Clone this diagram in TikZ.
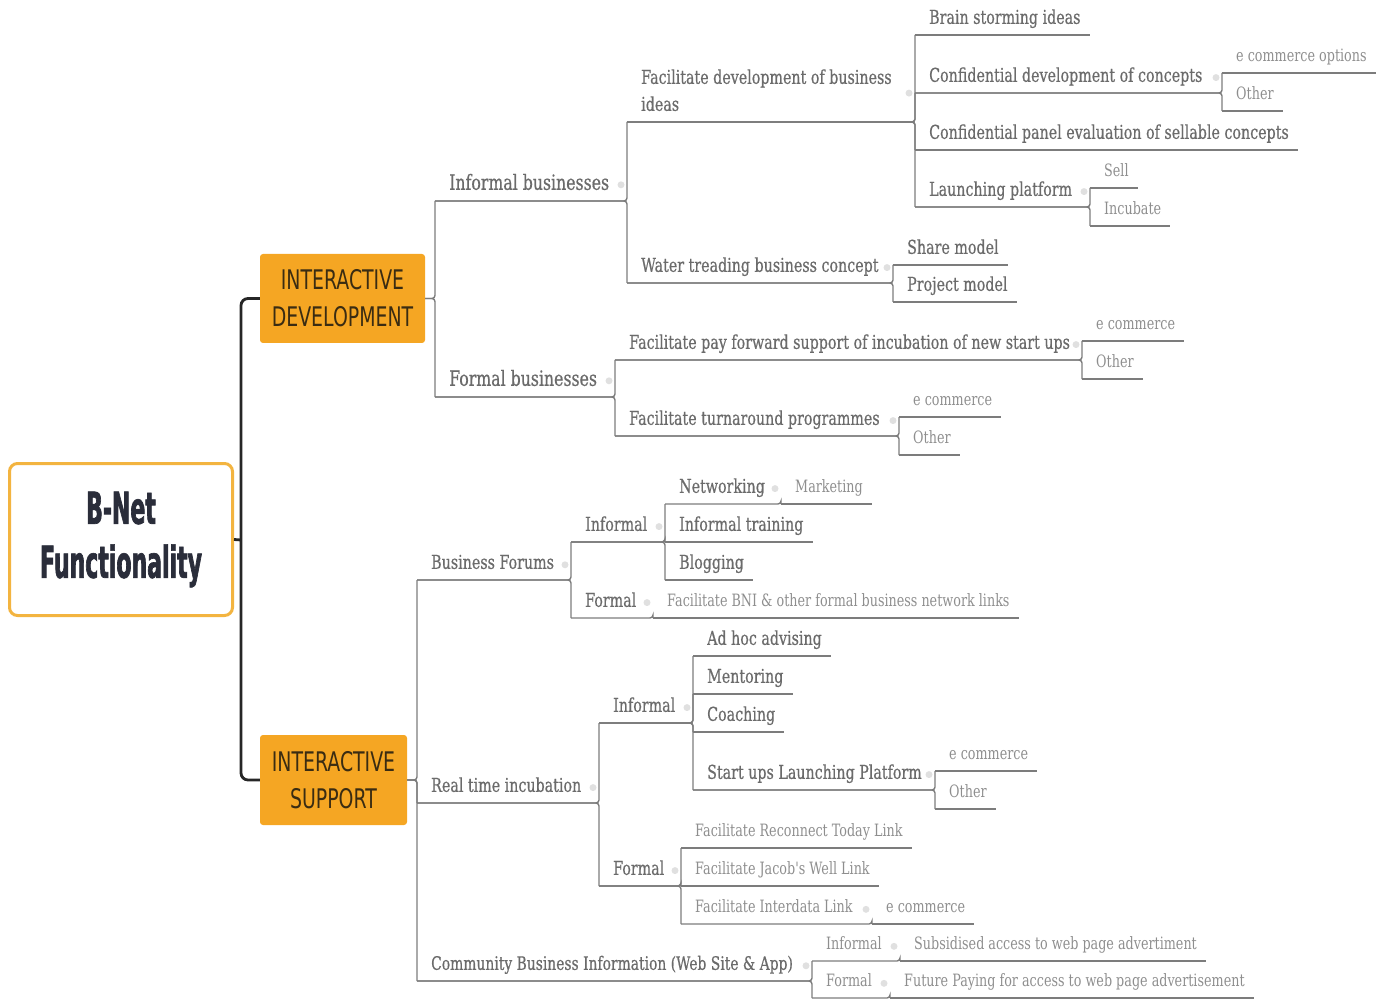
\documentclass[tikz,border=0pt]{standalone}
\usepackage{fontspec}
\usepackage{tikz}
\usetikzlibrary{calc}
\newfontfamily\slabfont[FakeStretch=0.75, FakeBold=0.6]{DejaVu Serif}
\newfontfamily\slablight[FakeStretch=0.75]{DejaVu Serif}
\newfontfamily\capsfont[FakeStretch=0.7]{DejaVu Sans}
\newfontfamily\headfont[FakeStretch=0.5, BoldFeatures={FakeBold=1.5}]{DejaVu Sans}
\definecolor{Amber}    {HTML}{F5A623}
\definecolor{AmberEdge}{HTML}{F3B440}
\definecolor{Ink}      {HTML}{6B6B6B}
\definecolor{InkLight} {HTML}{8E8E8E}
\definecolor{Wire}     {HTML}{7C7C7C}
\definecolor{Navy}     {HTML}{2A2D3A}
\definecolor{Umber}    {HTML}{3A2C12}

\begin{document}
\begin{tikzpicture}[x=1pt, y=-1pt,
  wire/.style={draw=Wire, line width=1.4pt, rounded corners=3pt},
  trunk/.style={draw=black!85, line width=2.8pt, rounded corners=7pt},
  knob/.style={fill=black!12},
  subtopic/.style={anchor=south west, inner xsep=14pt, inner ysep=5pt, text depth=6pt, align=left, text=Ink, font=\slabfont\fontsize{19}{27}\selectfont},
  topic/.style={subtopic, font=\slabfont\fontsize{21}{27}\selectfont},
  detail/.style={subtopic, text=InkLight, font=\slablight\fontsize{17}{22}\selectfont},
  panel/.style={fill=Amber, rounded corners=3pt, text=Umber, align=center, font=\capsfont\fontsize{27}{37}\selectfont}]
  \useasboundingbox (0,0) rectangle (1390,1000);

  % root and the two orange branches
  \node[draw=AmberEdge, line width=3pt, rounded corners=8pt, fill=white, minimum width=223pt, minimum height=152pt, align=center, text=Navy, font=\headfont\bfseries\fontsize{44}{54}\selectfont] (root) at (121,539.5) {B-Net\\Functionality};
  \node[panel, minimum width=165pt, minimum height=89pt] (dev) at (342.5,298.5) {INTERACTIVE\\DEVELOPMENT};
  \node[panel, minimum width=147pt, minimum height=90pt] (sup) at (333.5,780) {INTERACTIVE\\SUPPORT};
  \coordinate (hub) at (241,540);
  \draw[trunk] (root.east) -- (hub);
  \draw[trunk] (dev.west) -| (hub) |- (sup.west);

  % interactive development
  \node[topic] (ib) at (435,201) {Informal businesses};
  \node[topic] (fb) at (435,397) {Formal businesses};
  \node[subtopic] (fdb) at (627,122) {Facilitate development of business\\ideas};
  \node[subtopic] (wtb) at (627,283) {Water treading business concept};
  \node[subtopic] (bsi) at (915,35) {Brain storming ideas};
  \node[subtopic] (cdc) at (915,93) {Confidential development of concepts};
  \node[subtopic] (cpe) at (915,150) {Confidential panel evaluation of sellable concepts};
  \node[subtopic] (lpf) at (915,207) {Launching platform};
  \node[detail] (eco) at (1222,73) {e commerce options};
  \node[detail] (cdo) at (1222,111) {Other};
  \node[detail] (sel) at (1090,188) {Sell};
  \node[detail] (inc) at (1090,226) {Incubate};
  \node[subtopic] (shm) at (893,265) {Share model};
  \node[subtopic] (prm) at (893,302) {Project model};
  \node[subtopic] (fpf) at (615,360) {Facilitate pay forward support of incubation of new start ups};
  \node[subtopic] (ftp) at (615,436) {Facilitate turnaround programmes};
  \node[detail] (pfe) at (1082,341) {e commerce};
  \node[detail] (pfo) at (1082,379) {Other};
  \node[detail] (tpe) at (899,417) {e commerce};
  \node[detail] (tpo) at (899,455) {Other};

  % interactive support
  \node[subtopic] (bf) at (417,580) {Business Forums};
  \node[subtopic] (rti) at (417,803) {Real time incubation};
  \node[subtopic, font=\slabfont\fontsize{18.5}{27}\selectfont] (cbi) at (417,981) {Community Business Information (Web Site \& App)};
  \node[subtopic] (bfi) at (571,542) {Informal};
  \node[subtopic] (bff) at (571,618) {Formal};
  \node[subtopic] (net) at (665,504) {Networking};
  \node[detail] (mkt) at (781,504) {Marketing};
  \node[subtopic] (itr) at (665,542) {Informal training};
  \node[subtopic] (blg) at (665,580) {Blogging};
  \node[detail] (bni) at (653,618) {Facilitate BNI \& other formal business network links};
  \node[subtopic] (rii) at (599,723) {Informal};
  \node[subtopic] (rif) at (599,886) {Formal};
  \node[subtopic] (ahv) at (693,656) {Ad hoc advising};
  \node[subtopic] (men) at (693,694) {Mentoring};
  \node[subtopic] (coa) at (693,732) {Coaching};
  \node[subtopic] (sul) at (693,790) {Start ups Launching Platform};
  \node[detail] (sue) at (935,771) {e commerce};
  \node[detail] (suo) at (935,809) {Other};
  \node[detail] (frt) at (681,848) {Facilitate Reconnect Today Link};
  \node[detail] (fjw) at (681,886) {Facilitate Jacob's Well Link};
  \node[detail] (fil) at (681,924) {Facilitate Interdata Link};
  \node[detail] (fie) at (872,924) {e commerce};
  \node[detail] (cin) at (812,961) {Informal};
  \node[detail] (csa) at (900,961) {Subsidised access to web page advertiment};
  \node[detail] (cfo) at (812,998) {Formal};
  \node[detail] (cfp) at (890,998) {Future Paying for access to web page advertisement};

  % connectors
  \draw[wire] (dev.east) -| (ib.south west);
  \draw[wire] (dev.east) -| (fb.south west);
  \draw[wire] (sup.east) -| (bf.south west);
  \draw[wire] (sup.east) -| (rti.south west);
  \draw[wire] (sup.east) -| (cbi.south west);
  \foreach \p/\c in {ib/fdb, ib/wtb, fdb/bsi, fdb/cdc, fdb/cpe, fdb/lpf, cdc/eco, cdc/cdo,
                     lpf/sel, lpf/inc, wtb/shm, wtb/prm, fb/fpf, fb/ftp, fpf/pfe, fpf/pfo,
                     ftp/tpe, ftp/tpo, bf/bfi, bf/bff, bfi/net, bfi/itr, bfi/blg, net/mkt,
                     bff/bni, rti/rii, rti/rif, rii/ahv, rii/men, rii/coa, rii/sul, sul/sue,
                     sul/suo, rif/frt, rif/fjw, rif/fil, fil/fie, cbi/cin, cbi/cfo, cin/csa, cfo/cfp}
    \draw[wire] (\p.south west) -| (\c.south west);
  \foreach \n in {bsi, cpe, eco, cdo, sel, inc, shm, prm, pfe, pfo, tpe, tpo, mkt, itr, blg,
                  bni, ahv, men, coa, sue, suo, frt, fjw, fie, csa, cfp}
    \draw[wire] (\n.south west) -- ([xshift=-5pt]\n.south east);
  % collapse dots
  \foreach \p/\c in {ib/fdb, fb/fpf, fdb/bsi, cdc/eco, lpf/sel, wtb/shm, fpf/pfe, ftp/tpe,
                     bf/bfi, rti/rii, cbi/cin, bfi/net, net/mkt, bff/bni, rii/ahv, sul/sue,
                     rif/frt, fil/fie, cin/csa, cfo/cfp}
    \fill[knob] ($(\p.east -| \c.south west)+(-6,0)$) circle (3.5pt);
\end{tikzpicture}
\end{document}
